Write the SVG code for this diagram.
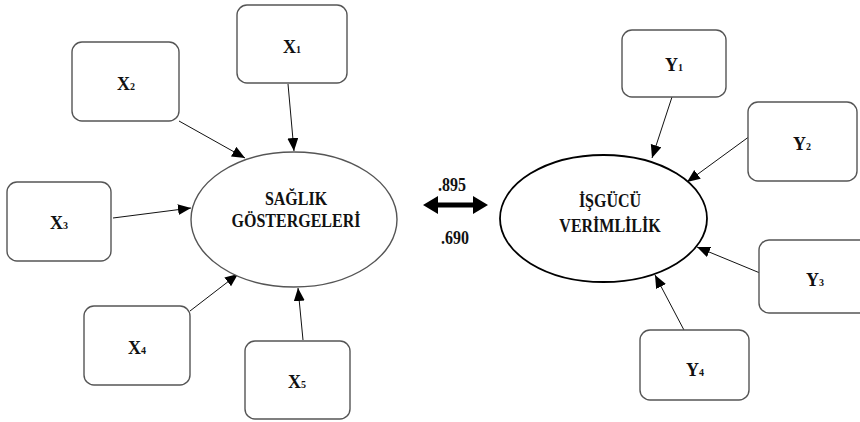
<svg xmlns="http://www.w3.org/2000/svg" width="860" height="422" viewBox="0 0 860 422">
<defs>
<style>
.box{fill:#fff;stroke:#555;stroke-width:1.4}
text{font-family:'Liberation Serif','Times New Roman',Times,serif;font-weight:bold;fill:#111;text-anchor:middle}
.lbl{font-size:18px}
.sub{font-size:10px}
.big{font-size:16px}
.con{stroke:#111;stroke-width:1;fill:none;marker-end:url(#ah)}
</style>
<marker id="ah" markerUnits="userSpaceOnUse" markerWidth="14" markerHeight="12" refX="13" refY="5.5" orient="auto">
<path d="M0,0 L13,5.5 L0,11 z" fill="#000"/>
</marker>
</defs>
<rect width="860" height="422" fill="#fff"/>
<g id="connectors">
<line class="con" x1="288" y1="84" x2="294" y2="151"/>
<line class="con" x1="179" y1="121" x2="245" y2="158"/>
<line class="con" x1="113" y1="218" x2="191" y2="208"/>
<line class="con" x1="190" y1="311" x2="238" y2="274"/>
<line class="con" x1="303" y1="340" x2="298" y2="288"/>
<line class="con" x1="672" y1="97" x2="652" y2="158"/>
<line class="con" x1="750" y1="136" x2="687" y2="182"/>
<line class="con" x1="760" y1="273" x2="697" y2="247"/>
<line class="con" x1="685" y1="332" x2="655" y2="275"/>
<polygon points="423,205 438,196 438,202.5 473,202.5 473,196 488,205 473,214 473,207.5 438,207.5 438,214" fill="#000"/>
<text class="big" x="452" y="191" transform="translate(452 191) scale(1 1.15) translate(-452 -191)">.895</text>
<text class="big" x="455" y="244" transform="translate(455 244) scale(1 1.15) translate(-455 -244)">.690</text>
</g>
<g id="saglik">
<ellipse cx="294" cy="219.5" rx="103" ry="67.5" fill="#fff" stroke="#555" stroke-width="1.4"/>
<text class="big" x="296" y="205" transform="translate(296 205) scale(1 1.15) translate(-296 -205)">SAĞLIK</text>
<text class="big" x="296" y="227" transform="translate(296 227) scale(1 1.15) translate(-296 -227)">GÖSTERGELERİ</text>
</g>
<g id="isgucu">
<ellipse cx="603.5" cy="218.5" rx="103.5" ry="63.5" fill="#fff" stroke="#000" stroke-width="1.8"/>
<text class="big" x="610" y="207" transform="translate(610 207) scale(1 1.15) translate(-610 -207)">İŞGÜCÜ</text>
<text class="big" x="610" y="232" transform="translate(610 232) scale(1 1.15) translate(-610 -232)">VERİMLİLİK</text>
</g>
<g id="x1"><rect class="box" x="237" y="5" width="110" height="78" rx="10"/><text class="lbl" x="292" y="53">X<tspan class="sub">1</tspan></text></g>
<g id="x2"><rect class="box" x="72" y="42" width="107" height="79" rx="10"/><text class="lbl" x="126" y="90">X<tspan class="sub">2</tspan></text></g>
<g id="x3"><rect class="box" x="7" y="182" width="104" height="79" rx="10"/><text class="lbl" x="59" y="229">X<tspan class="sub">3</tspan></text></g>
<g id="x4"><rect class="box" x="84" y="306" width="106" height="79" rx="10"/><text class="lbl" x="137" y="354">X<tspan class="sub">4</tspan></text></g>
<g id="x5"><rect class="box" x="245" y="341" width="105" height="78" rx="10"/><text class="lbl" x="297" y="388">X<tspan class="sub">5</tspan></text></g>
<g id="y1"><rect class="box" x="622" y="30" width="104" height="67" rx="10"/><text class="lbl" x="674" y="71">Y<tspan class="sub">1</tspan></text></g>
<g id="y2"><rect class="box" x="748" y="102" width="109" height="79" rx="10"/><text class="lbl" x="802" y="150">Y<tspan class="sub">2</tspan></text></g>
<g id="y3"><rect class="box" x="759" y="240" width="110" height="73" rx="10"/><text class="lbl" x="815" y="286">Y<tspan class="sub">3</tspan></text></g>
<g id="y4"><rect class="box" x="640" y="330" width="109" height="70" rx="10"/><text class="lbl" x="695" y="376">Y<tspan class="sub">4</tspan></text></g>
</svg>
